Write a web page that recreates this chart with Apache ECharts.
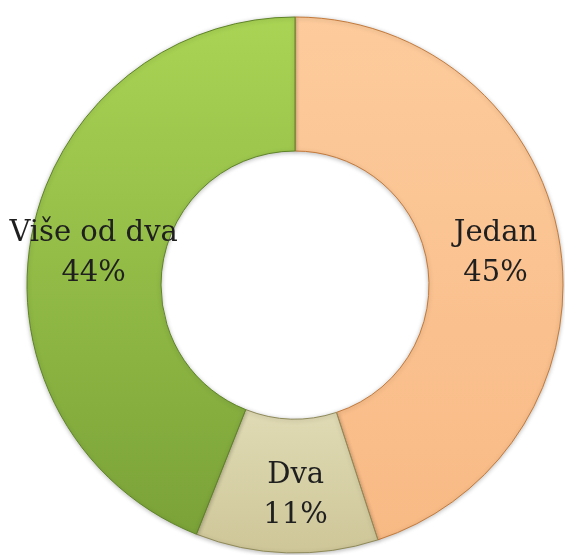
<!DOCTYPE html>
<html>
<head>
<meta charset="utf-8">
<script src="https://cdn.jsdelivr.net/npm/echarts@6/dist/echarts.min.js"></script>
<style>
  html, body { margin: 0; padding: 0; background: #ffffff; }
  #main { width: 565px; height: 555px; }
</style>
</head>
<body>
<div id="main"></div>
<script>
// broj djece - udjeli
const categories = ['Jedan', 'Dva', 'Više od dva'];
const shares = [45, 11, 44];
const topColors = ['#fdcb9c', '#e0dbb5', '#a9d454'];
const bottomColors = ['#f8ba85', '#cec698', '#7aa238'];
const borderColors = ['#c47a3a', '#8f8a5a', '#5f8428'];
const labelShift = [[-1, 0], [7, 7], [-1, 7]];

const chart = echarts.init(document.getElementById('main'), null, { renderer: 'canvas' });

const pieData = categories.map((name, i) => ({
  name: name,
  value: shares[i],
  itemStyle: {
    color: new echarts.graphic.LinearGradient(0, 0, 0, 1, [
      { offset: 0, color: topColors[i] },
      { offset: 1, color: bottomColors[i] }
    ]),
    borderColor: borderColors[i]
  },
  label: { offset: labelShift[i] }
}));

chart.setOption({
  backgroundColor: '#ffffff',
  animation: false,
  series: [
    {
      type: 'pie',
      center: [295, 285],
      radius: [134, 268],
      startAngle: 90,
      clockwise: true,
      itemStyle: {
        borderWidth: 1,
        shadowColor: 'rgba(0,0,0,0.25)',
        shadowBlur: 4,
        shadowOffsetY: 1
      },
      label: {
        show: true,
        position: 'inside',
        formatter: '{b}\n{d}%',
        fontFamily: 'DejaVu Serif',
        fontSize: 29,
        lineHeight: 40,
        color: '#1f1f1f'
      },
      labelLine: { show: false },
      emphasis: { disabled: true },
      data: pieData
    }
  ]
});
</script>
</body>
</html>
